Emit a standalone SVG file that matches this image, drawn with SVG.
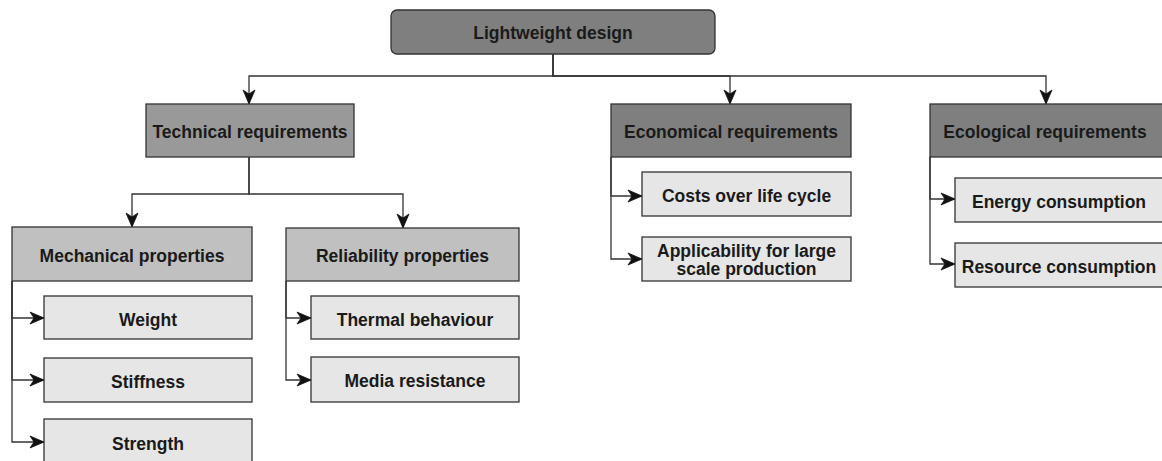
<svg xmlns="http://www.w3.org/2000/svg" width="1162" height="461" viewBox="0 0 1162 461">
  <style>
    .box { stroke: #333333; stroke-width: 1.3; }
    .root { fill: #7f7f7f; }
    .req-tech { fill: #999999; }
    .req { fill: #7f7f7f; }
    .group { fill: #c0c0c0; }
    .leaf { fill: #e6e6e6; }
    text { font-family: "Liberation Sans", Arial, sans-serif; font-weight: bold; font-size: 17.5px; fill: #1a1a1a; text-anchor: middle; }
    .edge { fill: none; stroke: #333333; stroke-width: 1.3; marker-end: url(#arrow); }
  </style>
  <defs>
    <marker id="arrow" markerUnits="userSpaceOnUse" markerWidth="16" markerHeight="14" refX="14" refY="7" orient="auto" overflow="visible">
      <path d="M0,1 L14,7 L0,13 L4,7 Z" fill="#111111" stroke="#111111" stroke-width="0.8" stroke-linejoin="miter"/>
    </marker>
  </defs>

  <!-- connectors -->
  <g id="connectors">
    <path class="edge" d="M553,54 V76 H249 V104"/>
    <path class="edge" d="M553,54 V76 H730 V104"/>
    <path class="edge" d="M553,54 V76 H1046 V104"/>

    <path class="edge" d="M249,157 V194 H132 V227"/>
    <path class="edge" d="M249,157 V194 H403 V228"/>

    <path class="edge" d="M12,281 V318 H44"/>
    <path class="edge" d="M12,281 V380 H44"/>
    <path class="edge" d="M12,281 V442 H44"/>

    <path class="edge" d="M286,281 V318 H311"/>
    <path class="edge" d="M286,281 V380 H311"/>

    <path class="edge" d="M611,157 V196 H642"/>
    <path class="edge" d="M611,157 V259 H642"/>

    <path class="edge" d="M930,157 V199 H955"/>
    <path class="edge" d="M930,157 V264 H955"/>
  </g>

  <g id="lightweight-design">
    <rect class="box root" x="391" y="10" width="324" height="44" rx="6" ry="6"/>
    <text x="553" y="39">Lightweight design</text>
  </g>

  <g id="technical-requirements">
    <rect class="box req-tech" x="146" y="104" width="208" height="53"/>
    <text x="250" y="138">Technical requirements</text>
  </g>

  <g id="economical-requirements">
    <rect class="box req" x="611" y="104" width="240" height="53"/>
    <text x="731" y="138">Economical requirements</text>
  </g>

  <g id="ecological-requirements">
    <rect class="box req" x="930" y="104" width="240" height="53"/>
    <text x="1045" y="138">Ecological requirements</text>
  </g>

  <g id="mechanical-properties">
    <rect class="box group" x="12" y="227" width="240" height="54"/>
    <text x="132" y="262">Mechanical properties</text>
  </g>

  <g id="reliability-properties">
    <rect class="box group" x="286" y="228" width="233" height="53"/>
    <text x="402.5" y="262">Reliability properties</text>
  </g>

  <g id="weight">
    <rect class="box leaf" x="44" y="296" width="208" height="43"/>
    <text x="148" y="326">Weight</text>
  </g>

  <g id="stiffness">
    <rect class="box leaf" x="44" y="358" width="208" height="44"/>
    <text x="148" y="388">Stiffness</text>
  </g>

  <g id="strength">
    <rect class="box leaf" x="44" y="419" width="208" height="46"/>
    <text x="148" y="450">Strength</text>
  </g>

  <g id="thermal-behaviour">
    <rect class="box leaf" x="311" y="296" width="208" height="43"/>
    <text x="415" y="326">Thermal behaviour</text>
  </g>

  <g id="media-resistance">
    <rect class="box leaf" x="311" y="357" width="208" height="45"/>
    <text x="415" y="387">Media resistance</text>
  </g>

  <g id="costs-over-life-cycle">
    <rect class="box leaf" x="642" y="172" width="209" height="44"/>
    <text x="746.5" y="202">Costs over life cycle</text>
  </g>

  <g id="applicability">
    <rect class="box leaf" x="642" y="237" width="209" height="44"/>
    <text x="746.5" y="257">Applicability for large</text>
    <text x="746.5" y="275">scale production</text>
  </g>

  <g id="energy-consumption">
    <rect class="box leaf" x="955" y="178" width="215" height="44"/>
    <text x="1059" y="208">Energy consumption</text>
  </g>

  <g id="resource-consumption">
    <rect class="box leaf" x="955" y="243" width="215" height="44"/>
    <text x="1059" y="273">Resource consumption</text>
  </g>
</svg>
